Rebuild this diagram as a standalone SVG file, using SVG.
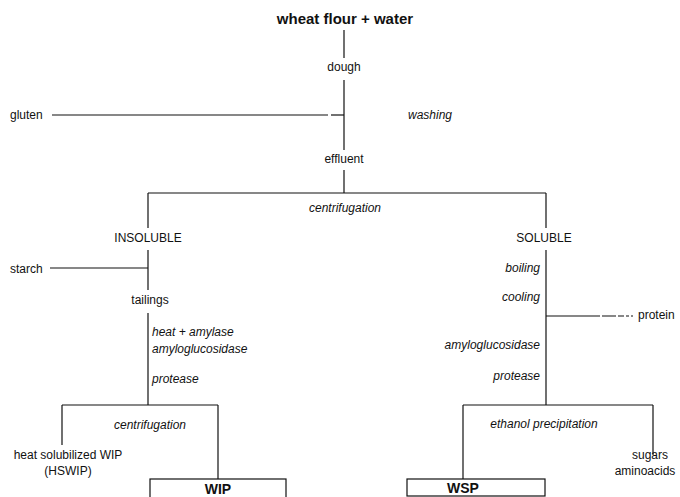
<svg xmlns="http://www.w3.org/2000/svg" width="680" height="497" viewBox="0 0 680 497">
<style>
text{font-family:"Liberation Sans",Arial,sans-serif;font-size:12px;fill:#111}
.c{text-anchor:middle}
.e{text-anchor:end}
.i{font-style:italic}
.b{font-weight:bold}
line,.box{stroke:#111;stroke-width:1.2;fill:none}
.d{stroke-dasharray:14 2 6 2 3 2}
</style>
<rect width="680" height="497" fill="#fff"/>
<g id="connectors">
<line x1="344" y1="30" x2="344" y2="58"/>
<line x1="344" y1="80" x2="344" y2="150"/>
<line x1="52" y1="115" x2="328" y2="115"/>
<line x1="331" y1="115" x2="344" y2="115" class="d"/>
<line x1="344" y1="170" x2="344" y2="193"/>
<line x1="148" y1="193" x2="546" y2="193"/>
<line x1="148" y1="193" x2="148" y2="228"/>
<line x1="546" y1="193" x2="546" y2="228"/>
<line x1="148" y1="250" x2="148" y2="290"/>
<line x1="50" y1="268" x2="148" y2="268"/>
<line x1="148" y1="313" x2="148" y2="405"/>
<line x1="62" y1="405" x2="218" y2="405"/>
<line x1="62" y1="405" x2="62" y2="445"/>
<line x1="218" y1="405" x2="218" y2="479"/>
<line x1="546" y1="250" x2="546" y2="405"/>
<line x1="546" y1="316" x2="600" y2="316"/>
<line x1="602" y1="316" x2="633" y2="316" class="d"/>
<line x1="463" y1="405" x2="653" y2="405"/>
<line x1="463" y1="405" x2="463" y2="479"/>
<line x1="653" y1="405" x2="653" y2="455"/>
</g>
<g id="start"><text class="c b" x="345" y="24" style="font-size:15px">wheat flour + water</text></g>
<g id="dough"><text class="c" x="344" y="71">dough</text></g>
<g id="gluten"><text x="10" y="119">gluten</text></g>
<g id="washing"><text class="i" x="408" y="119">washing</text></g>
<g id="effluent"><text class="c" x="344" y="163">effluent</text></g>
<g id="centrifugation1"><text class="c i" x="345" y="212">centrifugation</text></g>
<g id="insoluble"><text class="c" x="148" y="242">INSOLUBLE</text></g>
<g id="soluble"><text class="c" x="544" y="242">SOLUBLE</text></g>
<g id="starch"><text x="10" y="273">starch</text></g>
<g id="tailings"><text class="c" x="150" y="304">tailings</text></g>
<g id="enzymes-left"><text class="i" x="152" y="336">heat + amylase</text><text class="i" x="152" y="353">amyloglucosidase</text><text class="i" x="152" y="383">protease</text></g>
<g id="centrifugation2"><text class="c i" x="150" y="429">centrifugation</text></g>
<g id="hswip"><text class="c" x="68" y="459">heat solubilized WIP</text><text class="c" x="68" y="475">(HSWIP)</text></g>
<g id="wip"><rect class="box" x="150" y="479" width="136" height="24"/><text class="c b" x="218" y="494" style="font-size:14px">WIP</text></g>
<g id="steps-right"><text class="e i" x="540" y="272">boiling</text><text class="e i" x="540" y="301">cooling</text><text class="e i" x="540" y="349">amyloglucosidase</text><text class="e i" x="540" y="380">protease</text></g>
<g id="protein"><text x="638" y="319">protein</text></g>
<g id="ethanol"><text class="c i" x="544" y="428">ethanol precipitation</text></g>
<g id="sugars"><text class="c" x="650" y="459">sugars</text><text class="c" x="645" y="475">aminoacids</text></g>
<g id="wsp"><rect class="box" x="407" y="479" width="138" height="17"/><text class="c b" x="463" y="493" style="font-size:14px">WSP</text></g>
</svg>
